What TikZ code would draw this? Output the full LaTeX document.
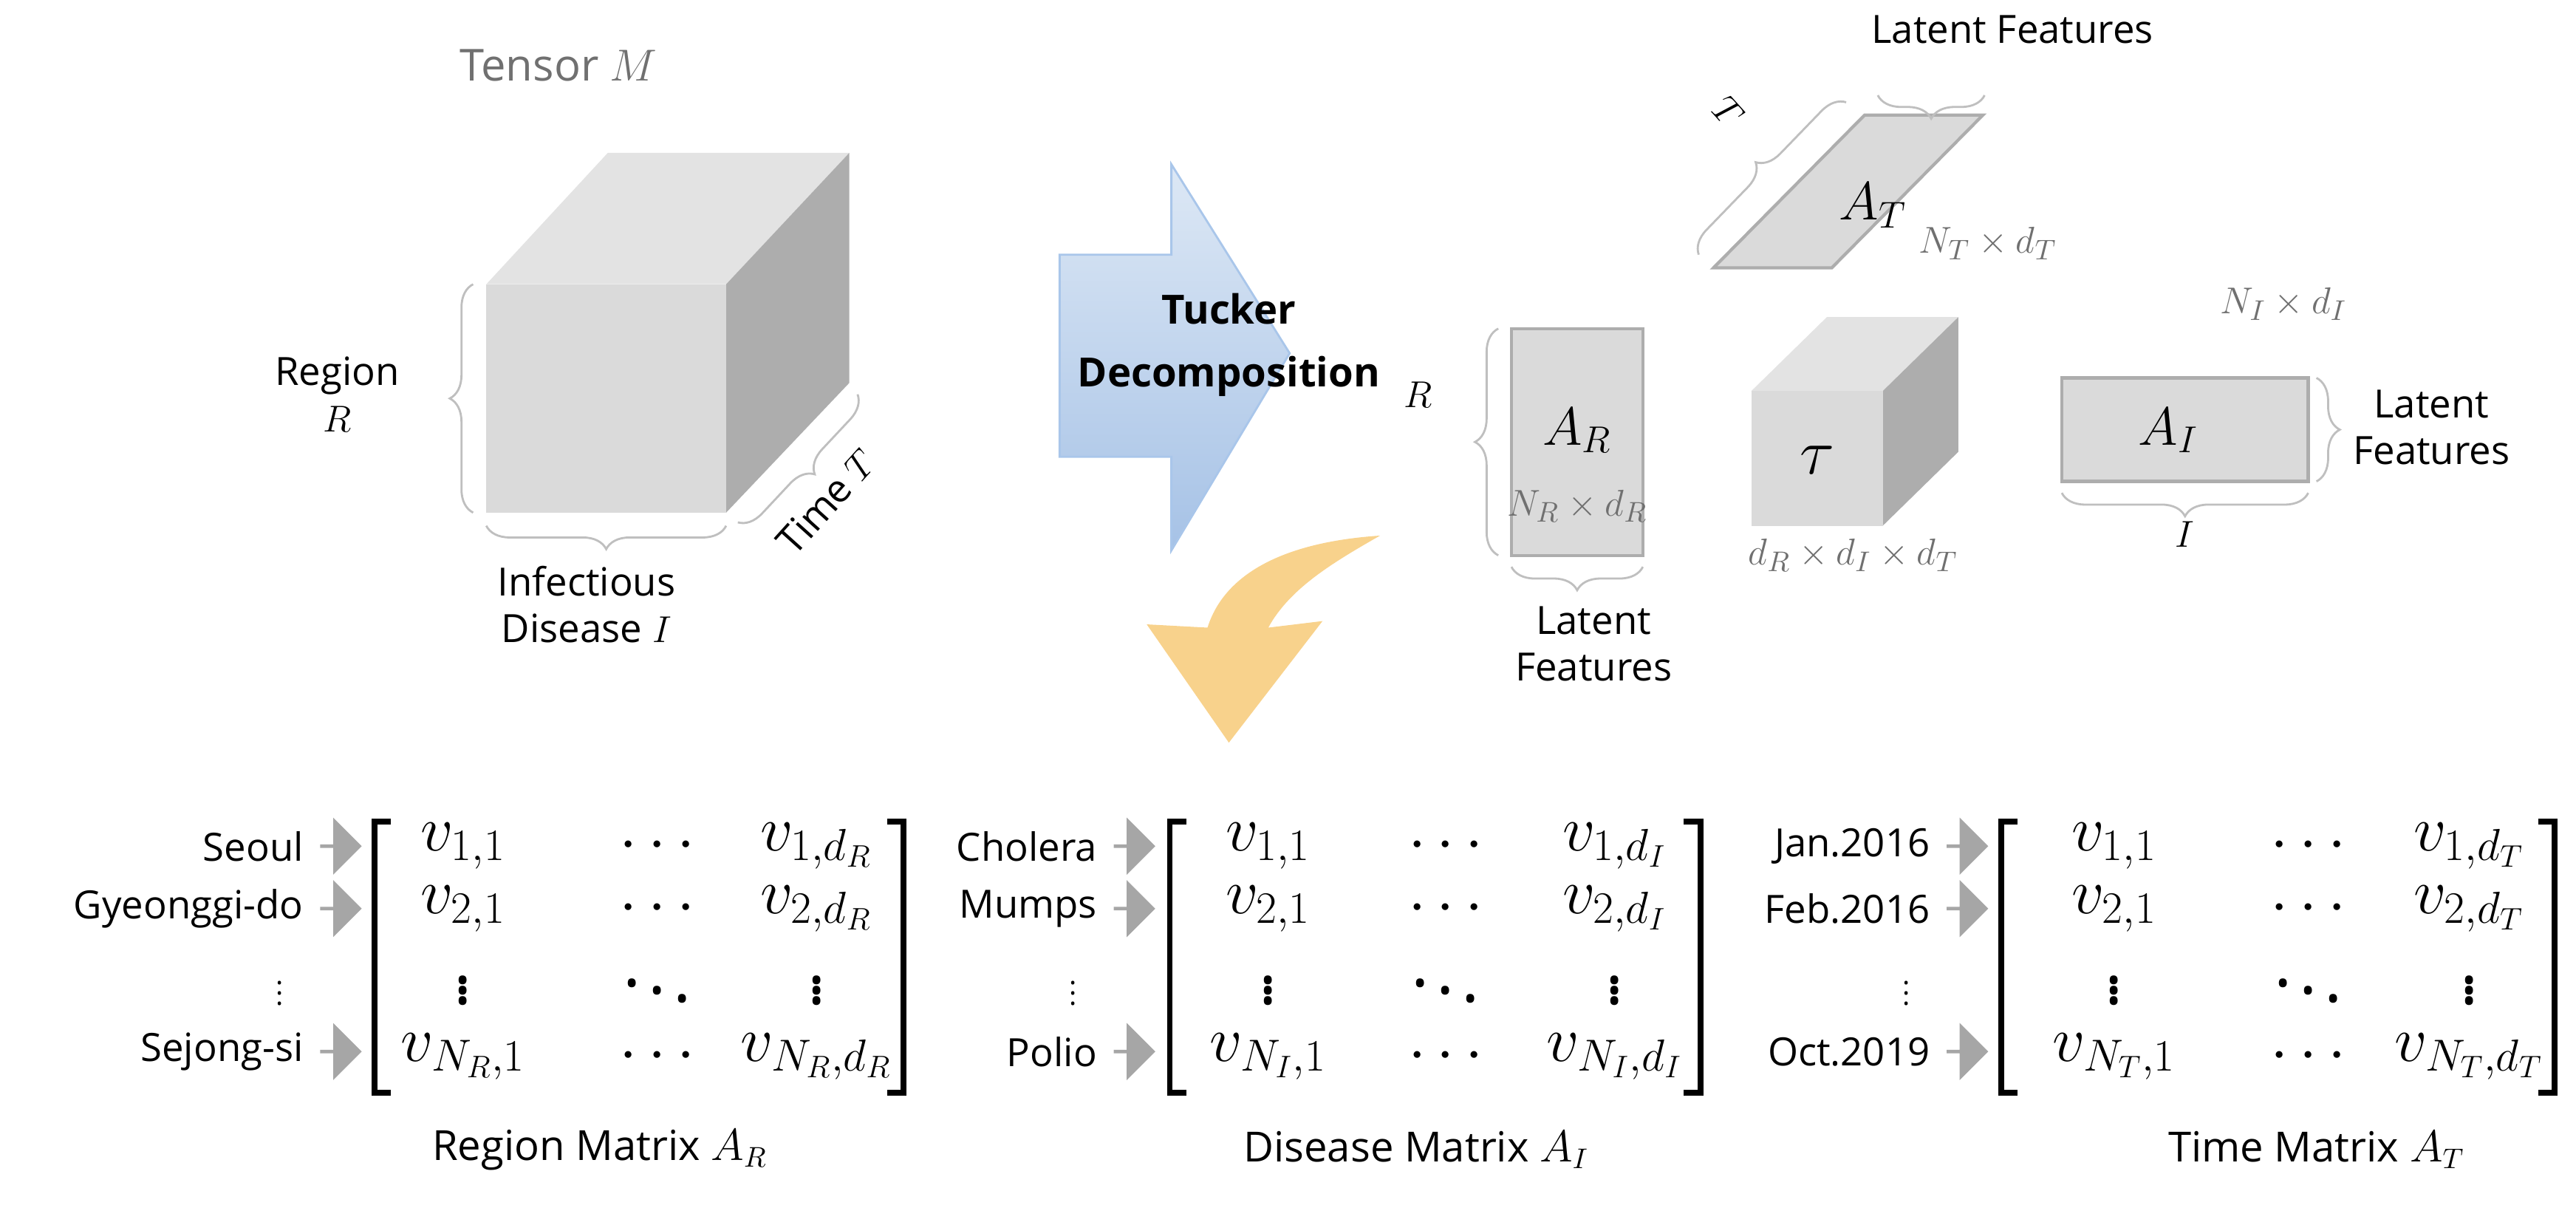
\documentclass[tikz,border=0pt]{standalone}
\usepackage{fontspec}
\setmainfont{Open Sans}
\usetikzlibrary{decorations.pathreplacing,shapes.arrows}
\definecolor{fgray}{HTML}{DADADA}
\definecolor{tgray}{HTML}{E3E3E3}
\definecolor{sgray}{HTML}{ADADAD}
\definecolor{egray}{HTML}{A6A6A6}
\definecolor{bgray}{HTML}{BFBFBF}
\definecolor{lgray}{HTML}{707070}
\definecolor{btop}{HTML}{DDE8F5}
\definecolor{bbot}{HTML}{A6C2E6}
\definecolor{bdraw}{HTML}{A9C6EA}
\definecolor{yel}{HTML}{F8D28C}
\begin{document}
\begin{tikzpicture}[x=0.02224cm,y=-0.02224cm,
  lab/.style={font=\fontsize{15}{18}\selectfont,align=center,inner sep=1pt},
  glab/.style={lab,text=lgray},
  br/.style={draw=bgray,line width=0.8pt,decorate,decoration={brace,amplitude=9pt}},
  mat/.style={line width=2.2pt,draw=black},
  ent/.style={font=\fontsize{26}{28}\selectfont,inner sep=0pt},
  rl/.style={font=\fontsize{15}{18}\selectfont,anchor=east,inner sep=0pt},
  ga/.style={single arrow,fill=egray,draw=none,minimum width=22pt,single arrow head extend=3pt,minimum height=16pt,inner sep=0pt,single arrow tip angle=90},
  rect/.style={fill=fgray,draw=sgray,line width=1.2pt}]
\useasboundingbox (0,0) rectangle (1568,735);
% Tensor cube
\fill[tgray] (296,173) -- (370,93) -- (517,93) -- (442,173) -- cycle;
\fill[sgray] (442,173) -- (517,93) -- (517,233) -- (442,312) -- cycle;
\fill[fgray] (296,173) rectangle (442,312);
\node[glab,font=\fontsize{17}{20}\selectfont] (tm) at (340,40) {Tensor $M$};
\draw[br] (288,312) -- (288,173);
\node[lab,anchor=east] (reg) at (245,240) {Region\\$R$};
\draw[br] (442,320) -- (296,320);
\node[lab] (inf) at (357,368) {Infectious\\Disease $I$};
\draw[br] (522,240) -- (449,318);
\node[lab,rotate=48] (time) at (503,305) {Time $T$};
% Blue arrow
\shade[top color=btop,bottom color=bbot,draw=bdraw,line width=0.8pt]
 (645,155) -- (713,155) -- (713,100) -- (785,215) -- (713,335) -- (713,278) -- (645,278) -- cycle;
\node[lab,font=\bfseries\fontsize{15.5}{24}\selectfont] (tucker) at (748,210) {Tucker\\Decomposition};
% Yellow arrow
\fill[yel] (840,326) .. controls (780,330) and (745,350) .. (735,382) -- (698,380) -- (748,452) -- (805,378) -- (772,382) .. controls (785,358) and (812,342) .. (840,326) -- cycle;
% A_T
\draw[rect] (1043,163) -- (1115,163) -- (1207,70) -- (1135,70) -- cycle;
\node[lab,font=\fontsize{20}{22}\selectfont] (at) at (1140,125) {$A_T$};
\node[glab] (ntdt) at (1210,148) {$N_T\times d_T$};
\draw[br] (1208,58) -- (1143,58);
\node[lab] (lfT) at (1225,18) {Latent Features};
\draw[br] (1034,155) -- (1124,62);
\node[lab,rotate=-48] (tT) at (1052,68) {$T$};
% A_R
\draw[rect] (920,200) rectangle (1000,338);
\node[lab,font=\fontsize{20}{22}\selectfont] (ar) at (960,262) {$A_R$};
\node[glab] (nrdr) at (960,308) {$N_R\times d_R$};
\draw[br] (912,338) -- (912,200);
\node[lab] (rR) at (863,240) {$R$};
\draw[br] (1000,345) -- (920,345);
\node[lab] (lfR) at (970,392) {Latent\\Features};
% tau cube
\fill[tgray] (1066,238) -- (1112,193) -- (1192,193) -- (1146,238) -- cycle;
\fill[sgray] (1146,238) -- (1192,193) -- (1192,275) -- (1146,320) -- cycle;
\fill[fgray] (1066,238) rectangle (1146,320);
\node[font=\fontsize{24}{26}\selectfont] (tau) at (1106,280) {$\tau$};
\node[glab] (ddd) at (1128,338) {$d_R\times d_I\times d_T$};
% A_I
\draw[rect] (1255,230) rectangle (1405,293);
\node[lab,font=\fontsize{20}{22}\selectfont] (ai) at (1320,262) {$A_I$};
\node[glab] (nidi) at (1390,185) {$N_I\times d_I$};
\draw[br] (1410,230) -- (1410,293);
\node[lab] (lfI) at (1480,260) {Latent\\Features};
\draw[br] (1405,300) -- (1255,300);
\node[lab] (iI) at (1330,325) {$I$};
% Matrices
\foreach \lx/\bl/\br/\ca/\cb/\cc/\sub/\ta/\tb/\tc/\td/\cap/\capx in
 {185/228/550/282/400/497/R/Seoul/Gyeonggi-do/\vdots/Sejong-si/Region Matrix $A_R$/365,
  668/712/1035/772/880/983/I/Cholera/Mumps/\vdots/Polio/Disease Matrix $A_I$/862,
  1175/1218/1555/1287/1405/1503/T/Jan.2016/Feb.2016/\vdots/Oct.2019/Time Matrix $A_T$/1410}{
  \draw[mat] (\bl+10,500) -- (\bl,500) -- (\bl,665) -- (\bl+10,665);
  \draw[mat] (\br-10,500) -- (\br,500) -- (\br,665) -- (\br-10,665);
  \node[ent] at (\ca,515) {$v_{1,1}$};
  \node[ent] at (\cb,515) {$\cdots$};
  \node[ent] at (\cc,515) {$v_{1,d_\sub}$};
  \node[ent] at (\ca,553) {$v_{2,1}$};
  \node[ent] at (\cb,553) {$\cdots$};
  \node[ent] at (\cc,553) {$v_{2,d_\sub}$};
  \node[ent] at (\ca,598) {$\vdots$};
  \node[ent] at (\cb,598) {$\ddots$};
  \node[ent] at (\cc,598) {$\vdots$};
  \node[ent] at (\ca,643) {$v_{N_\sub,1}$};
  \node[ent] at (\cb,643) {$\cdots$};
  \node[ent] at (\cc,643) {$v_{N_\sub,d_\sub}$};
  \node[rl] at (\lx,515) {\ta};
  \node[rl] at (\lx,553) {\tb};
  \node[rl,font=\fontsize{11}{12}\selectfont] at (\lx-12,600) {$\vdots$};
  \node[rl] at (\lx,640) {\td};
  \foreach \yy in {515,553,640} \node[ga] at (\lx+22,\yy) {};
  \node[lab,font=\fontsize{16}{18}\selectfont] at (\capx,700) {\cap};
}
\end{tikzpicture}
\end{document}
